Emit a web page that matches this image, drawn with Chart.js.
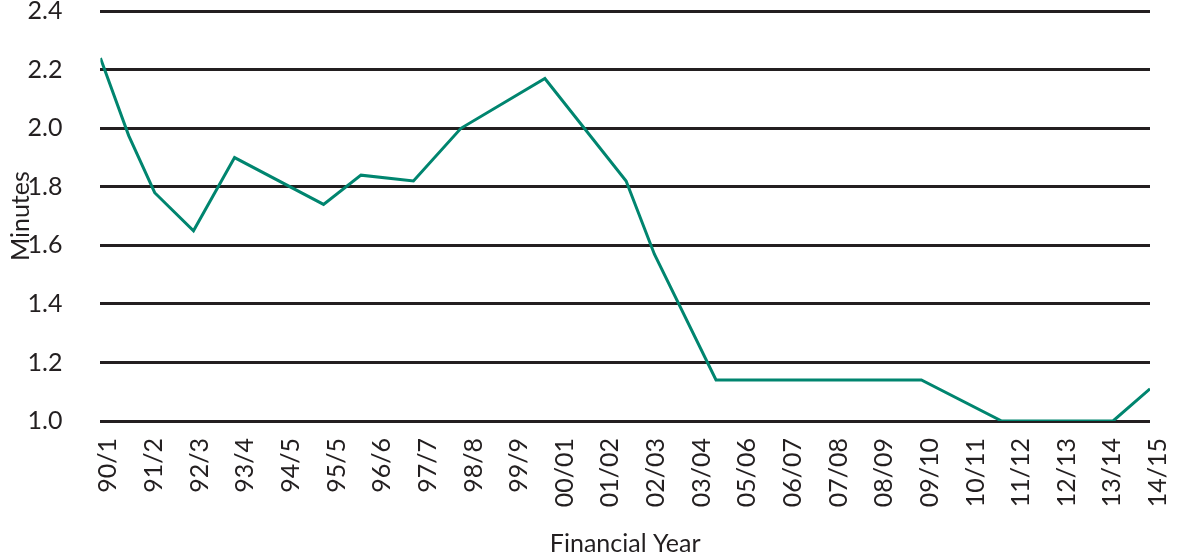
<!DOCTYPE html>
<html>
<head>
<meta charset="utf-8">
<script src="https://cdn.jsdelivr.net/npm/chart.js@4.4.1/dist/chart.umd.min.js"></script>
<style>
  html, body { margin: 0; padding: 0; background: #fff; }
  #wrap { width: 1179px; height: 559px; position: relative; }
</style>
</head>
<body>
<div id="wrap"><canvas id="chart"></canvas></div>
<script>
  "use strict";

  // financial years along the bottom axis
  const years = ["90/1", "91/2", "92/3", "93/4", "94/5", "95/5", "96/6", "97/7", "98/8", "99/9",
    "00/01", "01/02", "02/03", "03/04", "05/06", "06/07", "07/08", "08/09", "09/10", "10/11",
    "11/12", "12/13", "13/14", "14/15"];

  // where each vertex of the line sits, counted in year slots (0 = 90/1)
  const pointPos = [0, 0.62, 1.19, 2.04, 2.94, 4.89, 5.71, 6.86, 7.9, 9.74, 11.52, 12.14, 13.49, 17.99, 19.75, 22.19, 23];
  const minutes = [2.24, 1.975, 1.78, 1.65, 1.9, 1.74, 1.84, 1.82, 2.0, 2.17, 1.82, 1.57, 1.14, 1.14, 1.0, 1.0, 1.11];

  const yTicks = [1.0, 1.2, 1.4, 1.6, 1.8, 2.0, 2.2, 2.4];

  const ink = "#231f20";
  const teal = "#00856f";
  const font = "Lato, 'Open Sans', sans-serif";

  new Chart(document.getElementById("chart"), {
    type: "line",
    data: {
      datasets: [{
        label: "Minutes",
        data: pointPos.map((x, i) => ({ x, y: minutes[i] })),
        borderColor: teal,
        borderWidth: 3,
        pointRadius: 0,
        tension: 0,
        fill: false
      }]
    },
    options: {
      responsive: true,
      maintainAspectRatio: false,
      animation: false,
      layout: { padding: 0 },
      plugins: { legend: { display: false }, tooltip: { enabled: false } },
      scales: {
        x: {
          type: "linear",
          min: 0,
          max: years.length - 1,
          afterBuildTicks: (axis) => { axis.ticks = years.map((_, i) => ({ value: i })); },
          afterFit: (axis) => {
            axis.height = 138;
            axis.paddingLeft = 0;
            axis.paddingRight = 29;
          },
          ticks: {
            autoSkip: false,
            minRotation: 90,
            maxRotation: 90,
            padding: 17,
            labelOffset: 8,
            color: ink,
            font: { family: font, size: 25 },
            callback: (value) => years[value]
          },
          grid: { display: false, drawTicks: false },
          border: { display: false },
          title: {
            display: true,
            text: "Financial Year",
            color: ink,
            font: { family: font, size: 25 },
            padding: { top: 10, bottom: 0 }
          }
        },
        y: {
          min: 1.0,
          max: 2.4,
          afterBuildTicks: (axis) => { axis.ticks = yTicks.map((v) => ({ value: v })); },
          ticks: {
            padding: 0,
            color: ink,
            font: { family: font, size: 25, lineHeight: 0.9 },
            callback: (value) => Number(value).toFixed(1)
          },
          // invisible tick marks keep the labels clear of the grid
          grid: { color: ink, lineWidth: 3, drawTicks: true, tickLength: 38, tickColor: "rgba(0,0,0,0)" },
          border: { display: false },
          title: {
            display: true,
            text: "Minutes",
            color: ink,
            font: { family: font, size: 25, lineHeight: 1 },
            padding: { top: 8.5, bottom: -6 }
          }
        }
      }
    }
  });
</script>
</body>
</html>
